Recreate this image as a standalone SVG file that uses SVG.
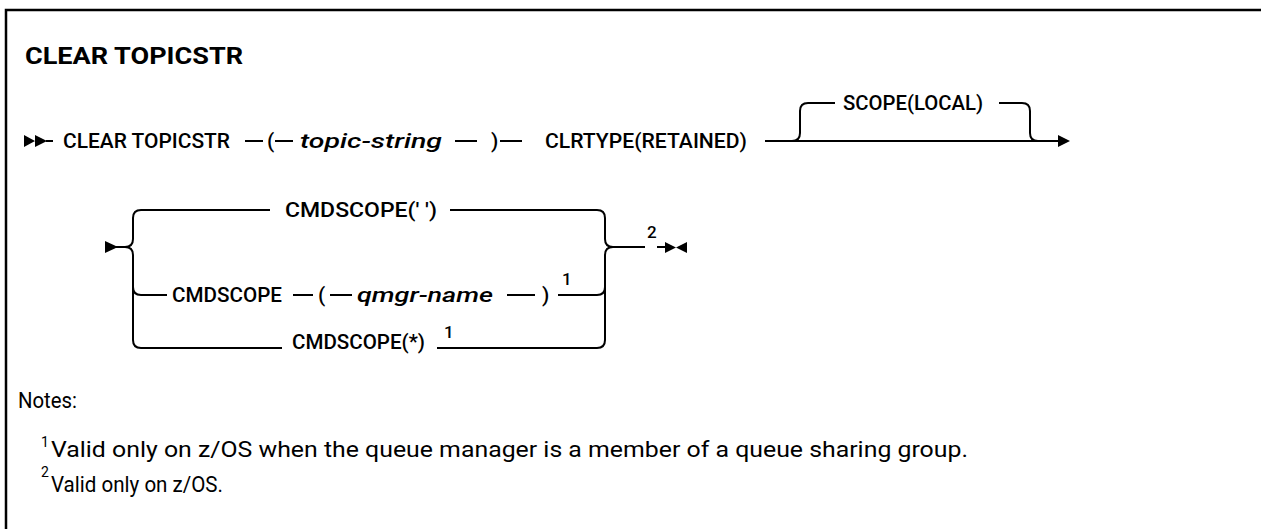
<svg xmlns="http://www.w3.org/2000/svg" width="1261" height="529" viewBox="0 0 1261 529">
<style>
.frame{fill:none;stroke:#000;stroke-width:2.5}
.ln{fill:none;stroke:#000;stroke-width:2}
.ah{fill:#000;stroke:none}
.t{font-family:Roboto,"Liberation Sans",sans-serif;font-size:21px;font-weight:500;fill:#000}
.v{font-style:italic}
.sup{font-family:Roboto,"Liberation Sans",sans-serif;font-size:17px;font-weight:500;fill:#000}
.title{font-family:Roboto,"Liberation Sans",sans-serif;font-size:24px;font-weight:bold;fill:#000}
.n{font-family:Roboto,"Liberation Sans",sans-serif;font-size:22px;fill:#000}
.ns{font-family:Roboto,"Liberation Sans",sans-serif;font-size:14px;fill:#000}
</style>
<path class="frame" d="M6,545 V10 H1275"/>
<text class="title" x="25" y="64" textLength="218" lengthAdjust="spacingAndGlyphs">CLEAR TOPICSTR</text>

<g id="connectors">
  <!-- row 1 -->
  <path class="ah" d="M24,135 L35,141 L24,147 Z M35,135 L47,141 L35,147 Z"/>
  <path class="ln" d="M46,141 H53"/>
  <path class="ln" d="M245,141 H263 M275,141 H293 M455,141 H477 M500,141 H522 M765,141 H1060"/>
  <path class="ln" d="M792,141 Q800,141 800,133 V111 Q800,103 808,103 H835 M999,103 H1022 Q1030,103 1030,111 V133 Q1030,141 1038,141"/>
  <path class="ah" d="M1058,135 L1070,141 L1058,147 Z"/>
  <!-- row 2 -->
  <path class="ah" d="M105,241 L118,247 L105,253 Z"/>
  <path class="ln" d="M116,247 H125 Q133,247 133,239 V218 Q133,210 141,210 H270 M450,210 H597 Q605,210 605,218 V239 Q605,247 613,247 H645"/>
  <path class="ln" d="M125,247 Q133,247 133,255 V287 Q133,295 141,295 H167 M293,295 H313 M330,295 H352 M507,295 H535 M558,295 H597 Q605,295 605,287 V255 Q605,247 613,247"/>
  <path class="ln" d="M133,287 V340 Q133,348 141,348 H282 M437,348 H597 Q605,348 605,340 V287"/>
  <path class="ln" d="M657,247 H667"/>
  <path class="ah" d="M665,242 L676,247.5 L665,253 Z M687,242 L676,247.5 L687,253 Z"/>
</g>

<g id="n-clear"><text class="t" x="63" y="148" textLength="167" lengthAdjust="spacingAndGlyphs">CLEAR TOPICSTR</text></g>
<g id="n-lp1"><text class="t" x="267" y="148">(</text></g>
<g id="n-topic"><text class="t v" x="300" y="148" textLength="142" lengthAdjust="spacingAndGlyphs">topic-string</text></g>
<g id="n-rp1"><text class="t" x="491" y="148">)</text></g>
<g id="n-clrtype"><text class="t" x="545" y="148" textLength="202" lengthAdjust="spacingAndGlyphs">CLRTYPE(RETAINED)</text></g>
<g id="n-scope"><text class="t" x="843" y="110" textLength="140" lengthAdjust="spacingAndGlyphs">SCOPE(LOCAL)</text></g>
<g id="n-cmdblank"><text class="t" x="285" y="217" textLength="152" lengthAdjust="spacingAndGlyphs">CMDSCOPE(' ')</text></g>
<g id="n-cmdscope"><text class="t" x="172" y="302" textLength="110" lengthAdjust="spacingAndGlyphs">CMDSCOPE</text></g>
<g id="n-lp2"><text class="t" x="318" y="302">(</text></g>
<g id="n-qmgr"><text class="t v" x="357" y="302" textLength="136" lengthAdjust="spacingAndGlyphs">qmgr-name</text></g>
<g id="n-rp2"><text class="t" x="542" y="302">)</text></g>
<g id="n-sup1a"><text class="sup" x="562" y="285">1</text></g>
<g id="n-cmdstar"><text class="t" x="292" y="349" textLength="133" lengthAdjust="spacingAndGlyphs">CMDSCOPE(*)</text></g>
<g id="n-sup1b"><text class="sup" x="444" y="338">1</text></g>
<g id="n-sup2"><text class="sup" x="647" y="238">2</text></g>

<g id="notes">
  <text class="n" x="18" y="408" textLength="59" lengthAdjust="spacingAndGlyphs">Notes:</text>
  <text class="ns" x="41" y="447">1</text>
  <text class="n" x="51" y="457" textLength="917" lengthAdjust="spacingAndGlyphs">Valid only on z/OS when the queue manager is a member of a queue sharing group.</text>
  <text class="ns" x="41" y="477">2</text>
  <text class="n" x="51" y="492" textLength="172" lengthAdjust="spacingAndGlyphs">Valid only on z/OS.</text>
</g>
</svg>
